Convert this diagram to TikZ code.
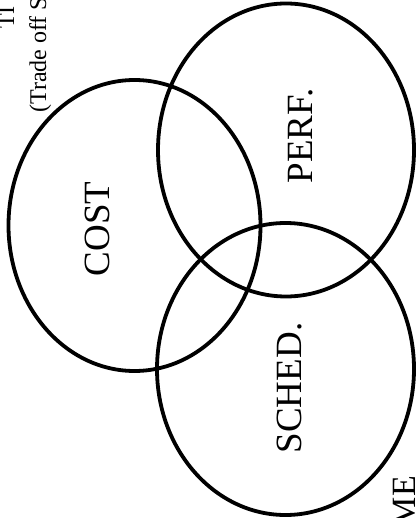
\documentclass[tikz,border=0pt]{standalone}
\usepackage{fontspec}
\setmainfont{Liberation Serif}
\usetikzlibrary{positioning}

\begin{document}
\begin{tikzpicture}[x=1pt, y=-1pt,
    setring/.style={black, line width=3.8pt},
    setlabel/.style={rotate=90, inner sep=0pt, font=\fontsize{37}{40}\selectfont},
    edgetext/.style={rotate=90, inner sep=0pt, font=\fontsize{24}{27}\selectfont}]
    % Frame of the page (pixel units, y downwards)
    \useasboundingbox (0,0) rectangle (417,518);
    \clip (0,0) rectangle (417,518);

    % Title lines, cut off by the page edge
    \node[edgetext, anchor=base west] (title) at (14,29) {TI};
    \node[edgetext, anchor=base west] (subtitle) at (46,113) {(Trade off S};

    % The three sets
    \draw[setring] (134.5,225.5) ellipse [x radius=126, y radius=145.5];
    \draw[setring] (286,150) ellipse [x radius=128, y radius=146.5];
    \draw[setring] (285.5,369) ellipse [x radius=128.5, y radius=146];

    % Labels
    \node[setlabel] (cost) at (97,229) {COST};
    \node[setlabel] (perf) at (301,136) {PERF.};
    \node[setlabel] (sched) at (290,388) {SCHED.};

    % Word at the lower edge, cut off
    \node[rotate=90, inner sep=0pt, anchor=base east,
          font=\fontsize{34}{37}\selectfont] (time) at (415,476) {ME};
\end{tikzpicture}
\end{document}
